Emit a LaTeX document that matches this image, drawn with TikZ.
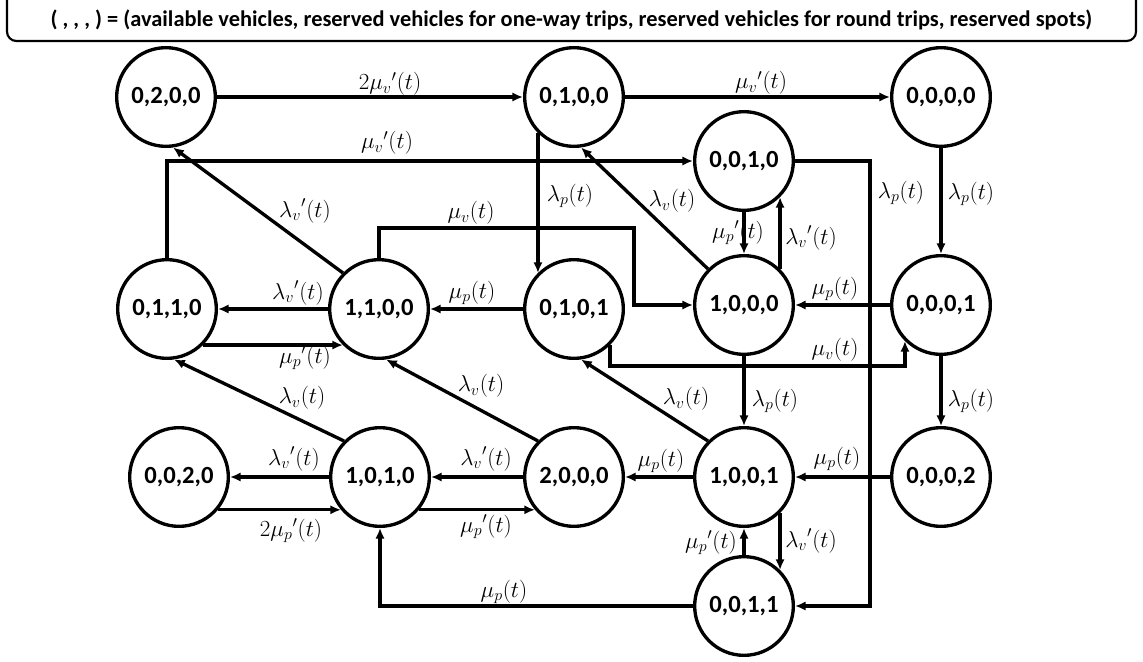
\documentclass[tikz,border=0pt]{standalone}
\usepackage{fontspec}
\setmainfont{Carlito}
\usetikzlibrary{arrows.meta}

\tikzset{
  statenode/.style={circle, draw, line width=2.5pt, minimum size=74pt, inner sep=0pt,
    font=\fontsize{18.5}{20}\selectfont\bfseries},
  trans/.style={line width=2.5pt, -{Latex[length=8pt,width=7pt]}},
  rate/.style={inner sep=0pt, font=\fontsize{17}{19}\selectfont},
}

\begin{document}
\begin{tikzpicture}[x=0.75pt,y=0.75pt,yscale=-1,xscale=1]
\useasboundingbox (0,0) rectangle (1143,661);

%Shape: Rounded Rectangle
\draw [line width=1.6pt, rounded corners=7pt] (7,-12) rectangle (1136,41) ;
% Text Node
\node (legend) at (571.5,20) {\fontsize{16.8}{18}\selectfont\bfseries ( , , , ) = (available vehicles, reserved vehicles for one-way trips, reserved vehicles for round trips, reserved spots)};

%Shape: Circle
\node [statenode] (n0200) at (166,97) {0,2,0,0};
\node [statenode] (n0100) at (574,97) {0,1,0,0};
\node [statenode] (n0000) at (941,97) {0,0,0,0};
\node [statenode] (n0010) at (744,161) {0,0,1,0};
\node [statenode] (n0110) at (167,309) {0,1,1,0};
\node [statenode] (n1100) at (379,309) {1,1,0,0};
\node [statenode] (n0101) at (574,309) {0,1,0,1};
\node [statenode] (n1000) at (744,305) {1,0,0,0};
\node [statenode] (n0001) at (941,305) {0,0,0,1};
\node [statenode] (n0020) at (179,477) {0,0,2,0};
\node [statenode] (n1010) at (380,477) {1,0,1,0};
\node [statenode] (n2000) at (574,477) {2,0,0,0};
\node [statenode] (n1001) at (744,477) {1,0,0,1};
\node [statenode] (n0002) at (941,477) {0,0,0,2};
\node [statenode] (n0011) at (744,606) {0,0,1,1};

%Corners of the routed lines
\coordinate (bend1) at (634,228) ;
\coordinate (bend2) at (870,161) ;

%Straight Lines
\draw [trans] (n0200) -- (n0100) ;
\draw [trans] (n0100) -- (n0000) ;
\draw [trans] (n0000) -- (n0001) ;
\draw [trans] (n0001) -- (n0002) ;
\draw [trans] (n0110.north) |- (n0010.west) ;
\draw [trans] (n1100.135) -- (n0200.-82) ;
\draw [trans] (n1100.north) |- (bend1) |- (n1000.west) ;
\draw [trans] (n0100.-135) -- (n0101.135) ;
\draw [trans] (n1000.135) -- (n0100.-82) ;
\draw [trans] (n0010.south) -- (n1000.north) ;
\draw [trans] (n1000.45) -- (n0010.-45) ;
\draw [trans] (n0010.east) -- (bend2) |- (n0011.east) ;
\draw [trans] (n0001.west) -- (n1000.east) ;
\draw [trans] (n0101.-45) -- ++(0,21) -| (n0001.-135) ;
\draw [trans] (n0101.west) -- (n1100.east) ;
\draw [trans] (n1100.west) -- (n0110.east) ;
\draw [trans] (n0110.-45) -- (n1100.-135) ;
\draw [trans] (n1010.135) -- (n0110.-82) ;
\draw [trans] (n2000.135) -- (n1100.-82) ;
\draw [trans] (n1001.135) -- (n0101.-82) ;
\draw [trans] (n1000.south) -- (n1001.north) ;
\draw [trans] (n0002.west) -- (n1001.east) ;
\draw [trans] (n1001.west) -- (n2000.east) ;
\draw [trans] (n2000.west) -- (n1010.east) ;
\draw [trans] (n1010.-40) -- (n2000.-140) ;
\draw [trans] (n1010.west) -- (n0020.east) ;
\draw [trans] (n0020.-40) -- (n1010.-140) ;
\draw [trans] (n0011.west) -| (n1010.south) ;
\draw [trans] (n0011.north) -- (n1001.south) ;
\draw [trans] (n1001.-45) -- (n0011.45) ;

% Text Node
\node [rate] (r1) at (390,84) {$2{\mu_v}'(t)$};
\node [rate] (r2) at (761,83) {${\mu_v}'(t)$};
\node [rate] (r3) at (971,194) {$\lambda_p(t)$};
\node [rate] (r4) at (971,401) {$\lambda_p(t)$};
\node [rate] (r5) at (387,143) {${\mu_v}'(t)$};
\node [rate] (r6) at (305,211) {${\lambda_v}'(t)$};
\node [rate] (r7) at (471,213) {$\mu_v(t)$};
\node [rate] (r8) at (570,196) {$\lambda_p(t)$};
\node [rate] (r9) at (672,201) {$\lambda_v(t)$};
\node [rate] (r10) at (738,233) {${\mu_p}'(t)$};
\node [rate] (r11) at (811,238) {${\lambda_v}'(t)$};
\node [rate] (r12) at (901,193) {$\lambda_p(t)$};
\node [rate] (r13) at (835,289) {$\mu_p(t)$};
\node [rate] (r14) at (835,350) {$\mu_v(t)$};
\node [rate] (r15) at (472,293) {$\mu_p(t)$};
\node [rate] (r16) at (298,293) {${\lambda_v}'(t)$};
\node [rate] (r17) at (305,358) {${\mu_p}'(t)$};
\node [rate] (r18) at (302,398) {$\lambda_v(t)$};
\node [rate] (r19) at (481,386) {$\lambda_v(t)$};
\node [rate] (r20) at (686,399) {$\lambda_v(t)$};
\node [rate] (r21) at (775,401) {$\lambda_p(t)$};
\node [rate] (r22) at (837,459) {$\mu_p(t)$};
\node [rate] (r23) at (661,461) {$\mu_p(t)$};
\node [rate] (r24) at (486,459) {${\lambda_v}'(t)$};
\node [rate] (r25) at (486,527) {${\mu_p}'(t)$};
\node [rate] (r26) at (294,459) {${\lambda_v}'(t)$};
\node [rate] (r27) at (291,531) {$2{\mu_p}'(t)$};
\node [rate] (r28) at (504,592) {$\mu_p(t)$};
\node [rate] (r29) at (711,543) {${\mu_p}'(t)$};
\node [rate] (r30) at (811,541) {${\lambda_v}'(t)$};

\end{tikzpicture}
\end{document}
